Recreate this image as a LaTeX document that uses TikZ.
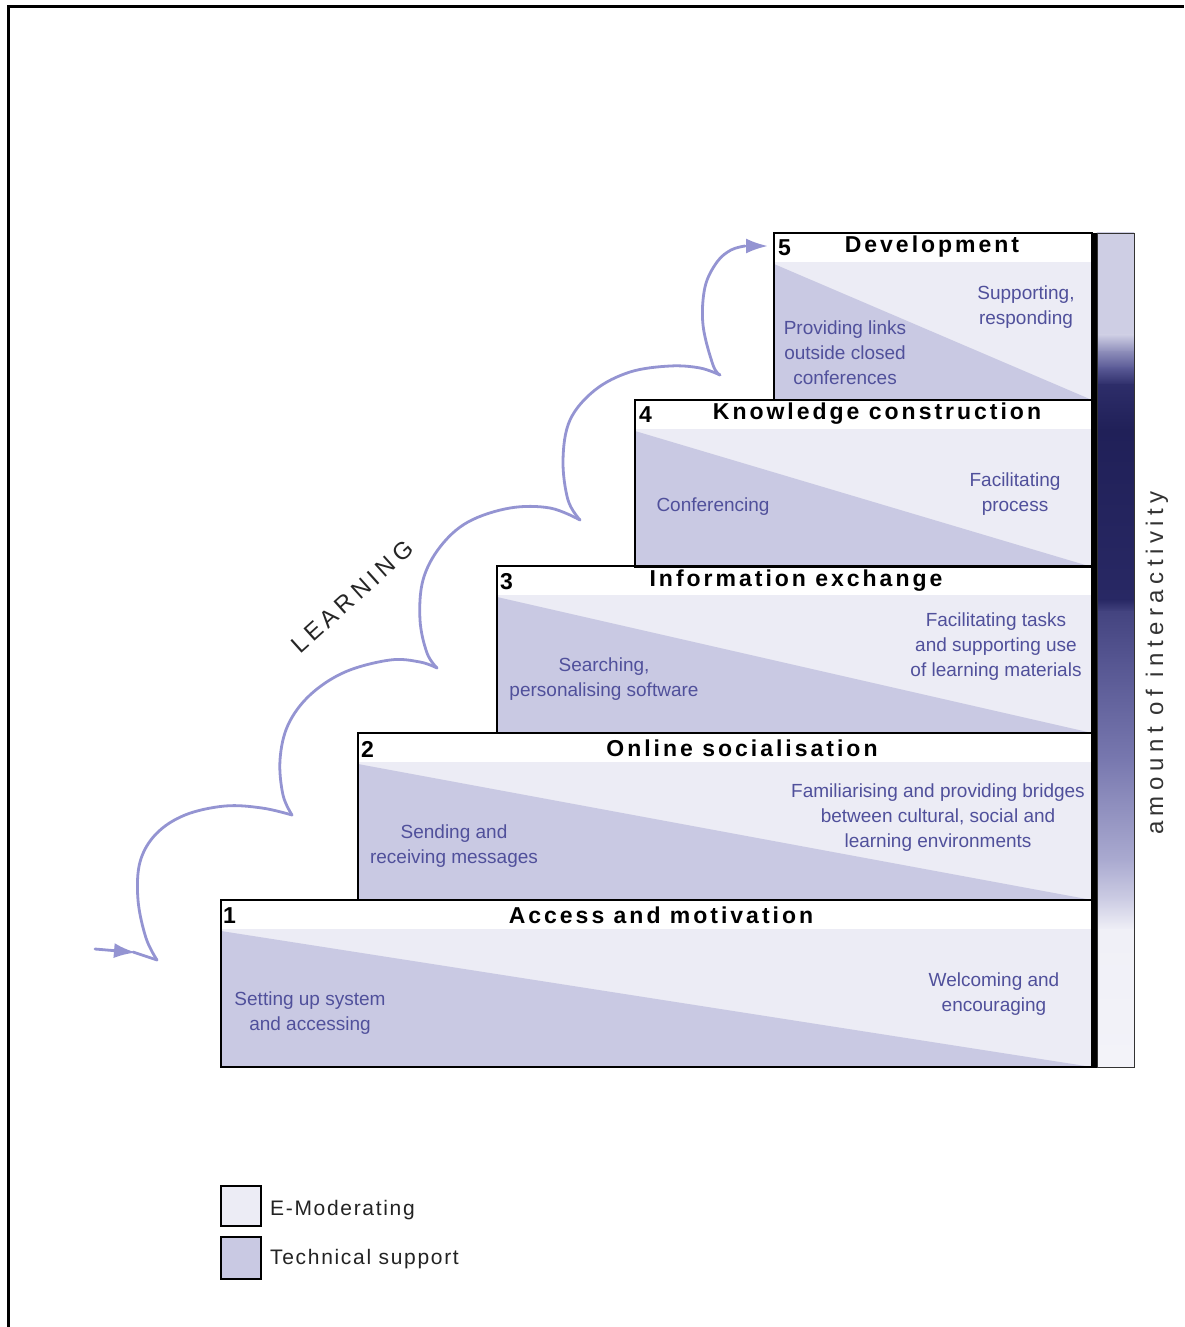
\documentclass[tikz,border=0pt]{standalone}
\usepackage{fontspec}
\setmainfont{Liberation Sans}
\newfontfamily\titlefont[LetterSpace=13]{Liberation Sans}
\newfontfamily\widefont[LetterSpace=23]{Liberation Sans}
\newfontfamily\learnfont[LetterSpace=19]{Liberation Sans}
\newfontfamily\legfont[LetterSpace=8]{Liberation Sans}
\usetikzlibrary{arrows.meta}
\definecolor{emod}{RGB}{236,236,245}
\definecolor{tech}{RGB}{201,201,227}
\definecolor{stxt}{RGB}{80,80,155}
\definecolor{curvecol}{RGB}{148,148,210}
\definecolor{legtxt}{RGB}{35,35,35}
\definecolor{g0}{RGB}{206,206,228}
\definecolor{g1}{RGB}{206,206,228}
\definecolor{g2}{RGB}{140,140,185}
\definecolor{g3}{RGB}{90,90,150}
\definecolor{g4}{RGB}{45,45,105}
\definecolor{g5}{RGB}{32,32,88}
\definecolor{g6}{RGB}{40,40,100}
\definecolor{g7}{RGB}{68,68,128}
\definecolor{g8}{RGB}{85,85,145}
\definecolor{g9}{RGB}{120,120,175}
\definecolor{g10}{RGB}{170,170,208}
\definecolor{g11}{RGB}{205,205,228}
\definecolor{g12}{RGB}{240,240,247}
\definecolor{g13}{RGB}{243,243,249}
\begin{document}
\begin{tikzpicture}[x=1pt,y=-1pt,
  boxline/.style={draw=black,line width=1.5pt},
  titletext/.style={font=\titlefont\bfseries\fontsize{23}{26}\selectfont,text=black,inner sep=0pt},
  numtext/.style={font=\bfseries\fontsize{23}{26}\selectfont,text=black,inner sep=0pt,anchor=west},
  bodytext/.style={font=\fontsize{19}{25}\selectfont,text=stxt,align=center,inner sep=0pt},
  curve/.style={draw=curvecol,line width=2.8pt,line cap=round,line join=round},
  legbox/.style={draw=black,line width=2pt},
  legtext/.style={font=\legfont\fontsize{21}{25}\selectfont,text=legtxt,anchor=west,inner sep=0pt}]
\useasboundingbox (0,0) rectangle (1184,1327);
\fill[white] (0,0) rectangle (1184,1327);
% frame
\draw[line width=3pt] (8,1327) -- (8,7) -- (1184,7);

% steps
\foreach \L/\T in {221/900,358/733,497/566,635/400,774/233}{
  \pgfmathsetmacro{\B}{\T+167}
  \fill[emod] (\L,\T+29) rectangle (1092,\B);
  \fill[tech] (\L,\T+31) -- (\L,\B) -- (1092,\B) -- cycle;
}
\foreach \L/\T in {221/900,358/733,497/566,635/400,774/233}{
  \pgfmathsetmacro{\B}{\T+167}
  \draw[boxline] (\L,\T) rectangle (1092,\B);
}

% gradient bar
\foreach \ya/\yb/\ca/\cb in {233/335/g0/g1,335/352/g1/g2,352/368/g2/g3,368/385/g3/g4,385/430/g4/g5,430/600/g5/g6,600/612/g6/g7,612/660/g7/g8,660/760/g8/g9,760/860/g9/g10,860/900/g10/g11,900/930/g11/g12,930/1067/g12/g13}{
  \shade[top color=\ca,bottom color=\cb] (1097,\ya-0.4) rectangle (1134,\yb+0.4);
}
\draw[line width=1pt,draw=black!80] (1097,233) rectangle (1134,1067);
\draw[line width=5pt] (1094,232.5) -- (1094,1067.5);

% step 1
\node[numtext] (n1) at (223,916) {1};
\node[titletext] (t1) at (661,915) {Access and motivation};
\node[bodytext] (l1) at (310,1013) {Setting up system\\and accessing};
\node[bodytext] (r1) at (994,994) {Welcoming and\\encouraging};
% step 2
\node[numtext] (n2) at (361,749) {2};
\node[titletext] (t2) at (742,748) {Online socialisation};
\node[bodytext] (l2) at (454,846) {Sending and\\receiving messages};
\node[bodytext] (r2) at (938,818) {Familiarising and providing bridges\\between cultural, social and\\learning environments};
% step 3
\node[numtext] (n3) at (500,582) {3};
\node[titletext] (t3) at (796,581) {Information exchange};
\node[bodytext] (l3) at (604,679) {Searching,\\personalising software};
\node[bodytext] (r3) at (996,647) {Facilitating tasks\\and supporting use\\of learning materials};
% step 4
\node[numtext] (n4) at (639,415) {4};
\node[titletext] (t4) at (877,414) {Knowledge construction};
\node[bodytext] (l4) at (713,507) {Conferencing};
\node[bodytext] (r4) at (1015,494) {Facilitating\\process};
% step 5
\node[numtext] (n5) at (778,248) {5};
\node[titletext] (t5) at (932,247) {Development};
\node[bodytext] (l5) at (845,353) {Providing links\\outside closed\\conferences};
\node[bodytext] (r5) at (1026,307) {Supporting,\\responding};

% vertical label
\node[font=\widefont\fontsize{24}{28}\selectfont,text=black!80,rotate=90,inner sep=0pt] (amt) at (1157,663) {amount of interactivity};

% LEARNING
\node[font=\learnfont\fontsize{24}{28}\selectfont,text=black!85,rotate=42,inner sep=0pt] (learn) at (352,597) {LEARNING};

% learning curve
\coordinate (s0) at (95,949);
\coordinate (c0) at (157,960);
\coordinate (c1) at (292,815);
\coordinate (c2) at (437,668);
\coordinate (c3) at (580,520);
\coordinate (c4) at (720,375);
\coordinate (e5) at (745,246);
\coordinate (tip) at (768,246);
\draw[curve,-{Latex[length=22pt,width=15pt]}] (s0) -- (136,952.5);
\draw[curve] (133,952) -- (c0);
\draw[curve] plot[smooth,tension=0.6] coordinates {(c0) (146,938) (138,900) (140,862) (156,834) (185,815) (225,806) (262,808) (c1)};
\draw[curve] plot[smooth,tension=0.6] coordinates {(c1) (283,795) (280,760) (288,725) (310,695) (345,672) (390,660) (420,662) (c2)};
\draw[curve] plot[smooth,tension=0.6] coordinates {(c2) (427,653) (420,620) (423,580) (440,547) (468,522) (510,508) (550,508) (c3)};
\draw[curve] plot[smooth,tension=0.6] coordinates {(c3) (568,500) (563,460) (570,420) (595,390) (630,372) (670,366) (700,368) (c4)};
\draw[curve] plot[smooth,tension=0.6] coordinates {(c4) (713,365) (703,325) (705,287) (717,262) (731,250) (e5)};
\draw[curve,-{Latex[length=22pt,width=15pt]}] (e5) -- (tip);

% legend
\draw[legbox,fill=emod] (221,1186) rectangle (261,1226);
\draw[legbox,fill=tech] (221,1237) rectangle (261,1279);
\node[legtext] (lg1) at (270,1210) {E-Moderating};
\node[legtext] (lg2) at (270,1259) {Technical support};
\end{tikzpicture}
\end{document}
